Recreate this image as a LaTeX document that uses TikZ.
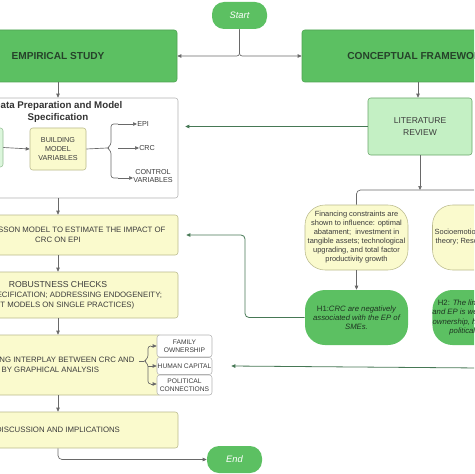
\documentclass[tikz,border=0pt]{standalone}
\usepackage{fontspec}
\setmainfont{Liberation Sans}
\usetikzlibrary{arrows.meta,positioning,calc}

\definecolor{boxgreen}{RGB}{92,192,98}
\definecolor{headtext}{RGB}{38,66,42}
\definecolor{yellowfill}{RGB}{250,250,205}
\definecolor{yellowline}{RGB}{185,185,140}
\definecolor{litfill}{RGB}{196,240,196}
\definecolor{litline}{RGB}{105,165,105}
\definecolor{boxtext}{RGB}{60,60,60}
\definecolor{linegray}{RGB}{105,105,105}
\definecolor{linegreen}{RGB}{70,120,85}

\tikzset{
  greenbox/.style={draw=boxgreen!85!black, fill=boxgreen, rounded corners=2pt, inner sep=0pt,
    font=\bfseries\fontsize{7.6}{9}\selectfont, text=headtext},
  pillbox/.style={fill=boxgreen, rounded corners=9pt, inner sep=0pt,
    font=\itshape\fontsize{7}{8}\selectfont, text=white},
  yellowbox/.style={draw=yellowline, fill=yellowfill, rounded corners=2pt, inner sep=0pt, align=center,
    font=\fontsize{5.85}{7.4}\selectfont, text=boxtext},
  whitebox/.style={draw=black!30, fill=white, rounded corners=2pt, inner sep=0pt, align=center,
    font=\fontsize{5}{6.2}\selectfont, text=boxtext},
  litbox/.style={draw=litline, fill=litfill, rounded corners=2pt, inner sep=0pt, align=center,
    font=\fontsize{6.4}{8.4}\selectfont, text=boxtext},
  roundbox/.style={draw=yellowline, fill=yellowfill, rounded corners=15pt, inner sep=0pt, align=center,
    font=\fontsize{5.6}{6.75}\selectfont, text=boxtext},
  hypobox/.style={fill=boxgreen, rounded corners=15pt, inner sep=0pt, align=center,
    font=\itshape\fontsize{5.8}{6.9}\selectfont, text=headtext!80!black},
  lbl/.style={inner sep=0pt, align=center, font=\fontsize{5.4}{6.2}\selectfont, text=boxtext},
  line/.style={draw=linegray, line width=0.5pt},
  gline/.style={draw=linegreen, line width=0.6pt},
  >={Triangle[length=3pt,width=2.6pt]}
}

\begin{document}
\begin{tikzpicture}[x=0.75pt,y=0.75pt,yscale=-1,xscale=1]
\useasboundingbox (0,0) rectangle (474,474);
\clip (0,0) rectangle (474,474);

% top row
\node[pillbox, minimum width=41.25pt, minimum height=20.25pt] (start) at (239.5,15.5) {Start};
\node[greenbox, minimum width=178.5pt, minimum height=39pt] (emp) at (58,56) {EMPIRICAL STUDY};
\node[greenbox, minimum width=174pt, minimum height=39pt] (concept) at (418,56) {CONCEPTUAL FRAMEWORK};

\draw[line,->,rounded corners=2pt] (start.south) |- (emp.east);
\draw[line,->,rounded corners=2pt] (start.south) |- (concept.west);

% empirical column
\node[whitebox, minimum width=180pt, minimum height=75pt] (data) at (58,148) {};
\node[anchor=north, inner sep=0pt, align=center, font=\bfseries\fontsize{7.3}{9}\selectfont, text=black!80]
  (datatitle) at (58,101) {Data Preparation and Model\\Specification};
\node[draw=litline!70, fill=litfill!60, rounded corners=2pt, minimum width=39.75pt, minimum height=29.25pt] (collect) at (-23.5,147.5) {};
\node[yellowbox, minimum width=42pt, minimum height=31.5pt, font=\fontsize{5.4}{6.4}\selectfont] (build) at (58,149)
  {BUILDING\\MODEL\\VARIABLES};
\node[lbl, anchor=west] (epi) at (137,124) {EPI};
\node[lbl, anchor=west] (crc) at (139,148) {CRC};
\node[lbl, anchor=west] (ctrl) at (133,176) {CONTROL\\VARIABLES};

\coordinate (bracetip) at (107,148);
\coordinate (bracetop) at (118,124);
\coordinate (bracemid) at (118,148);
\coordinate (bracebot) at (118,178);
\draw[line,->] (collect.east) -- (build.west);
\draw[line] (build.east) -- (bracetip);
\draw[line,rounded corners=2pt] (bracetop) -- (111,124) -- (111,145) -- (bracetip) -- (111,151) -- (111,178) -- (bracebot);
\draw[line,->] (bracetop) -- (epi.west);
\draw[line,->] (bracemid) -- (crc.west);
\draw[line,->] (bracebot) -- (ctrl.west |- bracebot);

\node[yellowbox, minimum width=180pt, minimum height=30pt] (poisson) at (58,235)
  {USING A POISSON MODEL TO ESTIMATE THE IMPACT OF\\CRC ON EPI};
\node[yellowbox, minimum width=180pt, minimum height=34.5pt] (robust) at (58,295)
  {{\fontsize{6.5}{7.6}\selectfont ROBUSTNESS CHECKS}\\(MODEL SPECIFICATION; ADDRESSING ENDOGENEITY;\\LOGIT MODELS ON SINGLE PRACTICES)};
\node[yellowbox, minimum width=178.5pt, minimum height=45pt] (inter) at (43,365)
  {INVESTIGATING INTERPLAY BETWEEN CRC AND\\EPI BY GRAPHICAL ANALYSIS};
\node[whitebox, minimum width=41.25pt, minimum height=16.5pt] (fam) at (184.5,346) {FAMILY\\OWNERSHIP};
\node[whitebox, minimum width=41.25pt, minimum height=12.75pt] (hum) at (184.5,366) {HUMAN CAPITAL};
\node[whitebox, minimum width=41.25pt, minimum height=15pt] (pol) at (184.5,385) {POLITICAL\\CONNECTIONS};
\node[yellowbox, minimum width=180pt, minimum height=27pt] (disc) at (58,430) {DISCUSSION AND IMPLICATIONS};
\node[pillbox, minimum width=41.25pt, minimum height=20.25pt] (end) at (234.5,459.5) {End};

\coordinate (bracetwotip) at (144,361);
\coordinate (bracetwotop) at (151,346);
\coordinate (bracetwomid) at (148,366);
\coordinate (bracetwobot) at (151,384);
\draw[line] (139,361) -- (bracetwotip);
\draw[line,rounded corners=2pt] (bracetwotop) -- (148,346) -- (148,358) -- (bracetwotip) -- (148,364) -- (148,384) -- (bracetwobot);
\draw[line,->] (bracetwotop) -- (fam.west |- bracetwotop);
\draw[line,->] (bracetwomid) -- (hum.west |- bracetwomid);
\draw[line,->] (bracetwobot) -- (pol.west |- bracetwobot);

\draw[line,->] (emp.south) -- (data.north);
\draw[line,->] (data.south) -- (poisson.north);
\draw[line,->] (poisson.south) -- (robust.north);
\draw[line,->] (robust.south) -- (robust.south |- inter.north);
\draw[line,->] (robust.south |- inter.south) -- (disc.north);
\draw[line,->,rounded corners=3pt] (disc.south) |- (end.west);

% conceptual column
\node[litbox, minimum width=78pt, minimum height=42.75pt] (lit) at (420,126.5) {LITERATURE\\REVIEW};
\node[roundbox, minimum width=77.25pt, minimum height=48.75pt] (fin) at (356.5,237.5)
  {Financing constraints are\\shown to influence: optimal\\abatament;~ investment in\\tangible assets; technological\\upgrading, and total factor\\productivity growth};
\node[roundbox, minimum width=77.25pt, minimum height=48.75pt] (socio) at (484,237.5)
  {Socioemotional wealth (SEW)\\theory; Resource-based view};
\node[hypobox, minimum width=77.25pt, minimum height=41.25pt] (hone) at (356.5,317.5)
  {{\upshape H1:}CRC are negatively\\associated with the EP of\\SMEs.};
\node[hypobox, minimum width=77.25pt, minimum height=41.25pt] (htwo) at (484,317.5)
  {{\upshape H2:} The link between CRC\\and EP is weakened by family\\ownership, human capital and\\political connections};

\coordinate (bus) at (420,190);
\coordinate (busend) at (480,190);
\coordinate (hturn) at (245,235);
\coordinate (htwolink) at (480,368);

\draw[line,->] (concept.south) -- (concept.south |- lit.north);
\draw[gline,->] (lit.west) -- ([xshift=5.25pt]lit.west -| data.east);
\draw[line,->] (lit.south) -- (bus);
\draw[line,rounded corners=3pt] (fin.north) |- (busend);
\draw[line,->] (fin.south) -- (hone.north);
\draw[gline,->,rounded corners=3pt] (hone.west) -| (hturn) -- ([xshift=6pt]poisson.east);
\draw[gline,->] (htwolink) -- ([xshift=14.25pt]hum.east);

\end{tikzpicture}
\end{document}
